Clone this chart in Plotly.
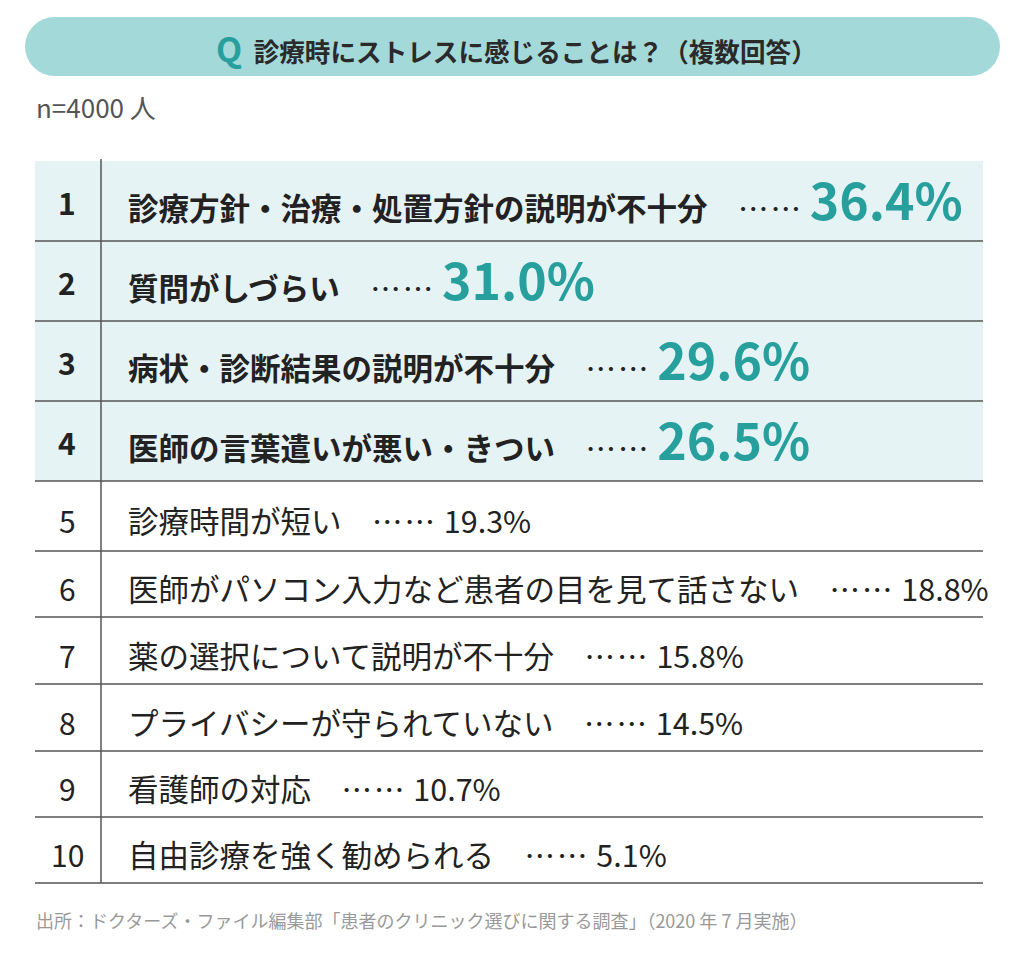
import plotly.graph_objects as go

# ---- data ----
ranks = [1, 2, 3, 4, 5, 6, 7, 8, 9, 10]
labels = [
    "診療方針・治療・処置方針の説明が不十分",
    "質問がしづらい",
    "病状・診断結果の説明が不十分",
    "医師の言葉遣いが悪い・きつい",
    "診療時間が短い",
    "医師がパソコン入力など患者の目を見て話さない",
    "薬の選択について説明が不十分",
    "プライバシーが守られていない",
    "看護師の対応",
    "自由診療を強く勧められる",
]
values = [36.4, 31.0, 29.6, 26.5, 19.3, 18.8, 15.8, 14.5, 10.7, 5.1]
n_highlight = 4
title_q = "Q"
title_text = "診療時にストレスに感じることは？（複数回答）"
sample_text = "n=4000 人"
source_text = "出所：ドクターズ・ファイル編集部「患者のクリニック選びに関する調査」（2020 年 7 月実施）"

# ---- layout constants (page pixels) ----
W, H = 1024, 958
OFF = 8  # page body margin
FONT = "Noto Sans CJK JP"
TEAL = "#27a09d"
PILL = "#a4d9da"
ROW_BG = "#e6f3f5"
DARK = "#222222"
LINE = "#555555"
row_edges = [161, 241, 321, 401, 481, 551, 617, 684, 751, 817, 883]
TABLE_L, TABLE_R, DIVIDER_X = 35, 983, 101

fig = go.Figure()
shapes = []
annotations = []

# header pill
pill_y0, pill_y1, pill_x0, pill_x1 = 17, 76, 25, 1000
r = (pill_y1 - pill_y0) / 2
shapes.append(dict(type="rect", x0=pill_x0 + r, x1=pill_x1 - r, y0=pill_y0, y1=pill_y1,
                   fillcolor=PILL, line=dict(width=0), layer="below"))
for cx in (pill_x0 + r, pill_x1 - r):
    shapes.append(dict(type="circle", x0=cx - r, x1=cx + r, y0=pill_y0, y1=pill_y1,
                       fillcolor=PILL, line=dict(width=0), layer="below"))
annotations.append(dict(
    x=516, y=47, xref="x", yref="y", xanchor="center", yanchor="middle", showarrow=False,
    text=(f"<span style='font-size:34px;color:{TEAL}'><b>{title_q}</b></span>"
          f"<span style='font-size:25.6px'>  <b>{title_text}</b></span>"),
    font=dict(family=FONT, size=25.6, color="#2a2a2a"),
))
annotations.append(dict(
    x=34, y=106, xref="x", yref="y", xanchor="left", yanchor="middle", showarrow=False,
    text=sample_text, font=dict(family=FONT, size=26, color="#555555"),
))

DOTS = "<span style='letter-spacing:2px'>……</span>"

# rows
for i, (rk, lab, val) in enumerate(zip(ranks, labels, values)):
    y0, y1 = row_edges[i], row_edges[i + 1]
    ym = (y0 + y1) / 2
    hl = i < n_highlight
    if hl:
        shapes.append(dict(type="rect", x0=TABLE_L, x1=TABLE_R, y0=y0, y1=y1,
                           fillcolor=ROW_BG, line=dict(width=0), layer="below"))
    shapes.append(dict(type="line", x0=TABLE_L, x1=TABLE_R, y0=y1, y1=y1,
                       line=dict(color=LINE, width=1.5)))
    rank_txt = f"<b>{rk}</b>" if hl else f"{rk}"
    annotations.append(dict(
        x=67, y=ym + (1 if hl else 4), xref="x", yref="y", xanchor="center", yanchor="middle",
        showarrow=False, text=rank_txt, font=dict(family=FONT, size=30, color=DARK),
    ))
    vtxt = f"{val:.1f}%"
    if hl:
        txt = (f"<b>{lab}</b>　{DOTS} "
               f"<span style='font-size:50px;color:{TEAL}'><b>{vtxt}</b></span>")
    else:
        txt = f"{lab}　{DOTS} {vtxt}"
    annotations.append(dict(
        x=126, y=ym + (-3 if hl else 4), xref="x", yref="y", xanchor="left", yanchor="middle",
        showarrow=False, text=txt, font=dict(family=FONT, size=30.5, color=DARK),
    ))

# vertical divider
shapes.append(dict(type="line", x0=DIVIDER_X, x1=DIVIDER_X, y0=row_edges[0] - 2, y1=row_edges[-1],
                   line=dict(color=LINE, width=1.5)))

annotations.append(dict(
    x=34, y=920, xref="x", yref="y", xanchor="left", yanchor="middle", showarrow=False,
    text=source_text, font=dict(family=FONT, size=18, color="#999999"),
))

fig.update_layout(
    width=W - OFF, height=H - OFF, margin=dict(l=0, r=0, t=0, b=0),
    paper_bgcolor="white", plot_bgcolor="white",
    xaxis=dict(range=[OFF, W], visible=False, fixedrange=True),
    yaxis=dict(range=[H, OFF], visible=False, fixedrange=True),
    shapes=shapes, annotations=annotations, showlegend=False,
)
fig.write_html("out.html", config={"displayModeBar": False})
